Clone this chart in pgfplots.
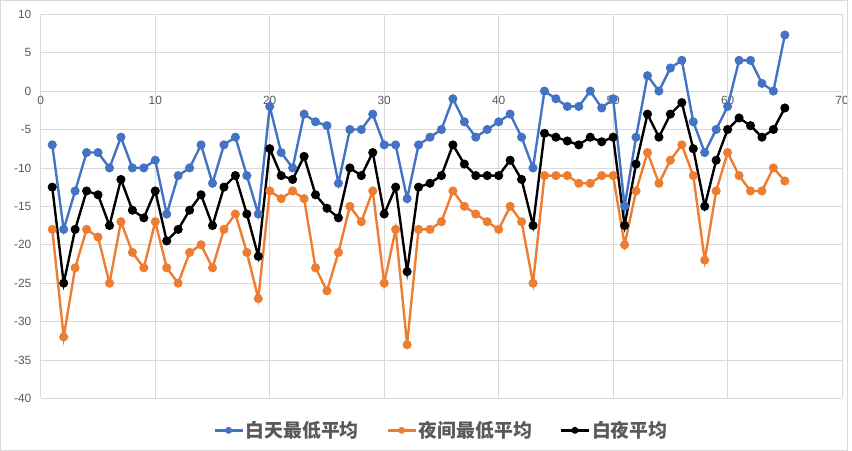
\documentclass[border=0pt]{standalone}
\usepackage{pgfplots}
\usepackage{pgfplotstable}
\pgfplotsset{compat=1.18}
\usepackage{fontspec}
\setmainfont{Liberation Sans}
\newfontfamily\cjk{Noto Sans CJK SC}
\definecolor{cblue}{HTML}{4472C4}
\definecolor{corange}{HTML}{ED7D31}
\definecolor{cgrid}{HTML}{D9D9D9}
\definecolor{ctext}{HTML}{595959}

% x  白天  夜间  平均
\pgfplotstableread{
x  day    night  avg
1  -7     -18    -12.5
2  -18    -32    -25
3  -13    -23    -18
4  -8     -18    -13
5  -8     -19    -13.5
6  -10    -25    -17.5
7  -6     -17    -11.5
8  -10    -21    -15.5
9  -10    -23    -16.5
10 -9     -17    -13
11 -16    -23    -19.5
12 -11    -25    -18
13 -10    -21    -15.5
14 -7     -20    -13.5
15 -12    -23    -17.5
16 -7     -18    -12.5
17 -6     -16    -11
18 -11    -21    -16
19 -16    -27    -21.5
20 -2     -13    -7.5
21 -8     -14    -11
22 -10    -13    -11.5
23 -3     -14    -8.5
24 -4     -23    -13.5
25 -4.5   -26    -15.25
26 -12    -21    -16.5
27 -5     -15    -10
28 -5     -17    -11
29 -3     -13    -8
30 -7     -25    -16
31 -7     -18    -12.5
32 -14    -33    -23.5
33 -7     -18    -12.5
34 -6     -18    -12
35 -5     -17    -11
36 -1     -13    -7
37 -4     -15    -9.5
38 -6     -16    -11
39 -5     -17    -11
40 -4     -18    -11
41 -3     -15    -9
42 -6     -17    -11.5
43 -10    -25    -17.5
44 0      -11    -5.5
45 -1     -11    -6
46 -2     -11    -6.5
47 -2     -12    -7
48 0      -12    -6
49 -2.2   -11    -6.6
50 -1     -11    -6
51 -15    -20    -17.5
52 -6     -13    -9.5
53 2      -8     -3
54 0      -12    -6
55 3      -9     -3
56 4      -7     -1.5
57 -4     -11    -7.5
58 -8     -22    -15
59 -5     -13    -9
60 -2     -8     -5
61 4      -11    -3.5
62 4      -13    -4.5
63 1      -13    -6
64 0      -10    -5
65 7.3    -11.7  -2.2
}\datatable

\begin{document}
\begin{tikzpicture}
\begin{axis}[
	scale only axis,
	width=805bp, height=386bp,
	xmin=0, xmax=70, xtick={0,10,...,70},
	ymin=-40, ymax=10, ytick={-40,-35,...,10},
	axis x line=middle, axis y line=left,
	axis line style={draw=none},
	hide obscured x ticks=false, hide obscured y ticks=false,
	major tick length=0pt,
	grid=major,
	major grid style={color=cgrid, line width=0.8bp},
	ticklabel style={font=\fontsize{12}{14}\selectfont, text=ctext},
	/pgf/number format/assume math mode=true,
	xticklabel style={yshift=-2bp},
	yticklabel style={xshift=-6bp},
	clip=false,
	legend columns=-1,
	legend style={at={(0.5,-0.083)}, anchor=center, draw=none, fill=none,
		font=\cjk\bfseries\fontsize{19}{22}\selectfont, text=ctext,
		/tikz/every even column/.append style={column sep=26bp}},
	legend image code/.code={\draw[#1, mark size=2.2bp, mark repeat=2, mark phase=2]
		plot coordinates {(0bp,0bp) (14bp,0bp) (28bp,0bp)};},
	every axis plot/.append style={line width=2.4bp, mark=*, mark size=3.3bp},
]
\draw[cgrid, line width=0.8bp] (axis cs:-3.53,-46.7) rectangle (axis cs:70.5,11.8);
\addplot[cblue, mark options={fill=cblue, draw=cblue}] table[x=x, y=day] {\datatable};
\addlegendentry{白天最低平均}
\addplot[corange, mark options={fill=corange, draw=corange}] table[x=x, y=night] {\datatable};
\addlegendentry{夜间最低平均}
\addplot[black, mark options={fill=black, draw=black}] table[x=x, y=avg] {\datatable};
\addlegendentry{白夜平均}
\end{axis}
\end{tikzpicture}
\end{document}
